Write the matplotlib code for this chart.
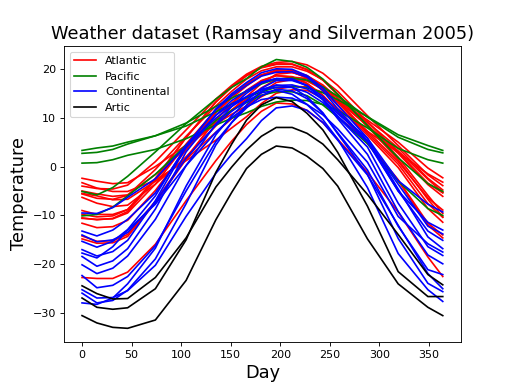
import matplotlib
matplotlib.use("Agg")
import matplotlib.pyplot as plt

# day of year for each reading
days = [0, 15, 31, 46, 74, 105, 135, 151, 166, 181, 196, 212, 227, 243, 258, 288, 319, 349, 364]

atlantic = {
    "St. Johns":     [-3.3, -4.4, -5.1, -5.1, -2.8, 1.2, 5.4, 7.9, 10.2, 12.9, 15.0, 15.7, 15.6, 14.0, 11.8, 7.2, 2.9, -1.5, -3.2],
    "Halifax":       [-5.0, -5.6, -6.1, -5.8, -1.6, 3.8, 9.0, 11.6, 13.8, 16.1, 17.8, 18.3, 18.0, 16.3, 14.0, 9.0, 3.8, -2.4, -4.8],
    "Sydney":        [-5.5, -6.0, -6.8, -6.7, -3.0, 1.5, 7.0, 9.8, 12.3, 15.1, 17.2, 17.8, 17.5, 15.8, 13.4, 8.4, 3.2, -2.6, -5.3],
    "Yarmouth":      [-2.4, -3.0, -3.5, -3.3, 0.0, 4.4, 8.7, 10.7, 12.4, 14.3, 15.8, 16.4, 16.3, 15.2, 13.5, 9.5, 5.0, -0.3, -2.3],
    "Charlottetown": [-6.3, -7.5, -8.2, -7.9, -3.6, 2.0, 8.3, 11.5, 14.3, 17.0, 18.9, 19.2, 18.6, 16.7, 14.0, 8.2, 2.7, -3.7, -6.1],
    "Fredericton":   [-9.0, -9.8, -9.8, -8.8, -2.8, 4.3, 11.0, 14.0, 16.5, 18.6, 19.8, 19.7, 18.6, 16.4, 13.4, 7.2, 1.0, -6.4, -8.9],
    "Scheffervll":   [-22.7, -22.9, -22.9, -21.6, -15.9, -7.0, 1.2, 5.2, 8.6, 11.3, 13.0, 12.8, 11.5, 9.0, 5.6, -1.2, -9.3, -18.5, -22.5],
    "Arvida":        [-14.2, -15.3, -15.2, -13.9, -7.1, 1.8, 9.5, 12.8, 15.4, 17.5, 18.6, 18.3, 17.0, 14.6, 11.4, 5.0, -2.7, -11.6, -14.0],
    "Bagottville":   [-14.8, -15.7, -15.6, -14.3, -7.4, 1.5, 9.6, 13.0, 15.6, 17.6, 18.6, 18.4, 17.0, 14.5, 11.2, 4.7, -2.9, -12.0, -14.6],
    "Quebec":        [-11.6, -12.5, -12.3, -11.0, -4.9, 3.4, 11.1, 14.4, 16.9, 18.8, 19.6, 19.4, 18.1, 15.7, 12.5, 6.4, -0.2, -8.6, -11.4],
    "Sherbrooke":    [-10.6, -10.8, -10.7, -9.5, -3.6, 4.6, 11.6, 14.6, 16.9, 18.7, 19.5, 19.3, 18.2, 16.0, 13.1, 6.8, 0.5, -7.6, -10.4],
    "Montreal":      [-9.8, -10.3, -10.1, -8.8, -2.4, 5.9, 13.2, 16.2, 18.6, 20.3, 21.0, 21.0, 19.9, 17.7, 14.8, 8.6, 1.9, -5.9, -9.6],
    "Ottawa":        [-10.5, -10.9, -10.6, -9.2, -2.6, 6.0, 13.2, 16.3, 18.6, 20.2, 20.9, 20.9, 19.8, 17.7, 14.7, 8.2, 1.4, -6.7, -10.3],
    "Toronto":       [-4.0, -4.5, -4.6, -3.8, 1.0, 7.5, 13.8, 16.6, 18.9, 20.5, 21.3, 21.5, 20.8, 19.1, 16.6, 10.4, 4.3, -1.7, -3.9],
    "London":        [-5.6, -6.5, -6.7, -5.9, -0.6, 6.2, 12.4, 15.4, 17.9, 19.6, 20.4, 20.4, 19.5, 17.8, 15.4, 9.2, 2.9, -3.4, -5.4],
}

continental = {
    "Thunder Bay":  [-14.0, -15.4, -15.0, -13.5, -7.3, 1.7, 8.5, 11.3, 13.5, 16.0, 17.6, 17.6, 16.6, 14.3, 11.2, 5.2, -3.6, -12.2, -13.8],
    "Winnipeg":     [-17.0, -18.3, -17.4, -15.1, -7.0, 4.0, 11.8, 14.9, 17.2, 19.2, 20.0, 19.9, 18.6, 16.1, 12.6, 5.8, -4.6, -14.4, -16.8],
    "The Pas":      [-20.1, -21.9, -20.8, -18.3, -10.8, 0.2, 8.7, 12.3, 15.0, 17.1, 18.0, 17.9, 16.6, 13.7, 9.8, 2.5, -9.2, -18.1, -19.9],
    "Churchill":    [-25.2, -26.9, -26.8, -25.4, -20.2, -10.2, -1.4, 2.5, 5.7, 9.4, 12.0, 12.4, 11.5, 9.0, 5.4, -1.7, -12.0, -21.9, -25.0],
    "Regina":       [-15.3, -16.5, -15.3, -12.9, -6.0, 4.3, 11.6, 14.5, 16.6, 18.5, 19.3, 19.4, 18.3, 15.5, 11.8, 5.2, -5.0, -13.2, -15.1],
    "Pr. Albert":   [-18.4, -20.4, -19.3, -16.8, -8.7, 3.0, 10.5, 13.5, 15.5, 17.3, 18.0, 17.9, 16.5, 13.8, 10.2, 4.0, -7.5, -16.4, -18.2],
    "Uranium City": [-22.3, -24.8, -24.3, -22.5, -16.2, -5.0, 5.1, 9.0, 12.0, 14.5, 15.8, 15.5, 13.9, 10.9, 6.9, -0.7, -12.2, -21.1, -22.1],
    "Edmonton":     [-13.2, -14.2, -13.0, -10.8, -5.4, 3.9, 10.5, 12.8, 14.3, 15.7, 16.2, 16.2, 15.2, 13.1, 10.3, 5.0, -5.0, -11.4, -13.0],
    "Calgary":      [-9.5, -9.6, -8.4, -6.3, -2.5, 4.3, 9.9, 12.3, 14.2, 15.8, 16.6, 16.7, 15.9, 13.7, 10.8, 5.8, -2.9, -7.7, -9.3],
    "Whitehorse":   [-17.7, -18.7, -16.4, -13.0, -7.7, 0.2, 7.0, 10.0, 12.2, 13.7, 14.2, 14.0, 12.7, 10.6, 7.7, 0.9, -10.2, -15.8, -17.5],
    "Dawson":       [-27.9, -28.2, -26.9, -24.0, -16.7, -4.0, 6.5, 10.4, 13.3, 15.1, 15.6, 14.8, 12.7, 9.6, 5.6, -4.3, -17.8, -25.2, -27.6],
    "Yellowknife":  [-25.9, -27.9, -27.4, -25.3, -18.9, -7.6, 4.4, 9.0, 12.6, 15.4, 16.7, 16.2, 14.3, 11.0, 6.7, -1.6, -14.7, -23.9, -25.6],
}

pacific = {
    "Kamloops":   [-5.1, -5.8, -4.3, -2.0, 3.0, 8.8, 13.8, 16.2, 18.0, 20.4, 21.9, 21.5, 20.3, 17.9, 14.8, 8.4, 1.8, -3.5, -5.1],
    "Vancouver":  [2.7, 2.9, 3.5, 4.6, 6.3, 8.9, 12.3, 14.0, 15.4, 16.9, 17.9, 18.1, 17.7, 16.3, 14.4, 10.1, 6.0, 3.5, 2.8],
    "Victoria":   [3.3, 3.8, 4.2, 5.0, 6.3, 8.3, 11.2, 12.8, 14.1, 15.3, 16.2, 16.4, 16.1, 15.1, 13.7, 10.2, 6.5, 4.3, 3.3],
    "Pr. George": [-10.1, -9.8, -8.3, -6.0, -1.6, 4.4, 9.4, 11.5, 13.1, 14.6, 15.3, 15.3, 14.5, 12.6, 10.1, 4.7, -3.0, -8.6, -10.0],
    "Pr. Rupert": [0.7, 0.8, 1.4, 2.3, 3.5, 5.7, 8.5, 9.9, 11.0, 12.3, 13.2, 13.6, 13.5, 12.7, 11.5, 7.9, 3.7, 1.4, 0.7],
}

arctic = {
    "Iqaluit":  [-24.4, -26.0, -27.1, -27.0, -22.7, -14.6, -4.2, -0.1, 3.4, 6.2, 8.0, 8.0, 6.8, 4.6, 1.4, -5.7, -13.9, -22.1, -24.2],
    "Inuvik":   [-26.9, -28.8, -29.2, -28.9, -25.0, -15.0, -1.2, 4.6, 9.5, 12.6, 14.1, 13.3, 10.9, 7.5, 2.9, -8.1, -21.5, -26.6, -26.6],
    "Resolute": [-30.5, -32.0, -32.9, -33.1, -31.4, -23.3, -10.9, -5.3, -0.4, 2.5, 4.2, 3.8, 2.1, -0.4, -4.0, -14.8, -24.0, -28.8, -30.5],
}

groups = [("Atlantic", atlantic, "red"),
          ("Pacific", pacific, "green"),
          ("Continental", continental, "blue"),
          ("Artic", arctic, "black")]

fig, ax = plt.subplots(figsize=(6.4, 4.8), dpi=80)

for label, stations, color in groups:
    first = True
    for name, temps in stations.items():
        ax.plot(days, temps, color=color, label=label if first else None)
        first = False

ax.set_title("Weather dataset (Ramsay and Silverman 2005)", fontsize=16)
ax.set_xlabel("Day", fontsize=16)
ax.set_ylabel("Temperature", fontsize=16)
ax.legend(loc="upper left")

fig.savefig("out.png", dpi=80)
